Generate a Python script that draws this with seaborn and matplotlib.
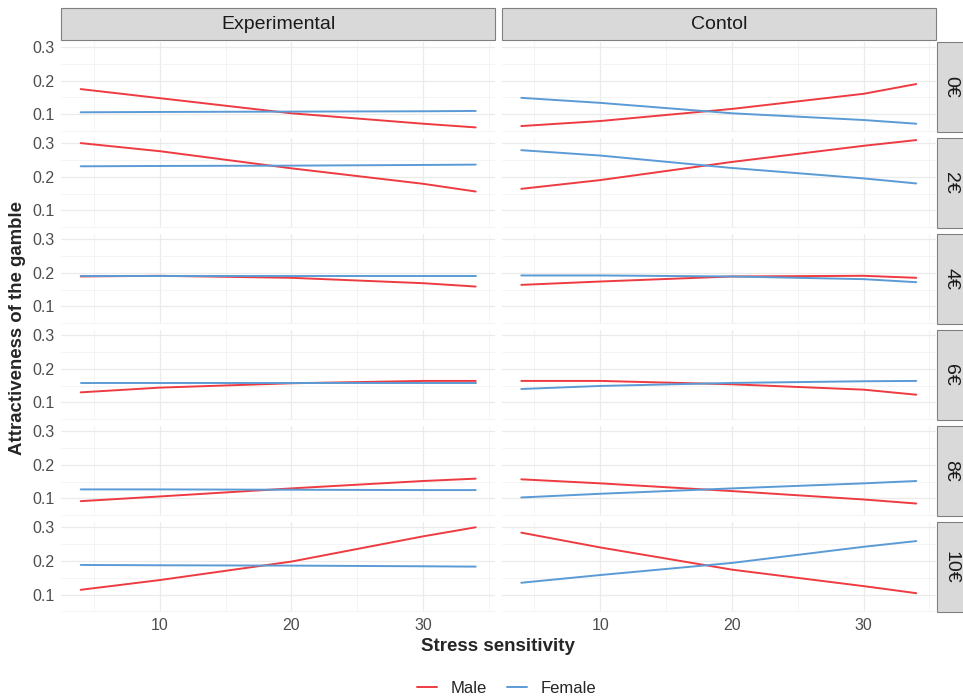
import pandas as pd
import seaborn as sns
import matplotlib.pyplot as plt
from matplotlib.patches import Rectangle
from matplotlib.lines import Line2D

# predicted attractiveness, at these stress values
stress = [4, 10, 20, 30, 34]
amounts = ["0€", "2€", "4€", "6€", "8€", "10€"]
groups = ["Experimental", "Contol"]
sexes = ["Male", "Female"]

male_exp = [
    [0.175, 0.148, 0.103, 0.072, 0.061],
    [0.300, 0.276, 0.225, 0.179, 0.156],
    [0.189, 0.191, 0.185, 0.169, 0.159],
    [0.130, 0.144, 0.157, 0.164, 0.164],
    [0.092, 0.106, 0.130, 0.152, 0.159],
    [0.114, 0.143, 0.198, 0.273, 0.300],
]
female_exp = [
    [0.106, 0.107, 0.108, 0.109, 0.110],
    [0.231, 0.232, 0.233, 0.235, 0.236],
    [0.189, 0.189, 0.189, 0.189, 0.189],
    [0.157, 0.157, 0.157, 0.157, 0.157],
    [0.127, 0.127, 0.126, 0.125, 0.125],
    [0.188, 0.187, 0.186, 0.184, 0.183],
]
male_ctl = [
    [0.065, 0.080, 0.116, 0.161, 0.190],
    [0.164, 0.190, 0.244, 0.292, 0.309],
    [0.164, 0.174, 0.189, 0.191, 0.185],
    [0.164, 0.164, 0.154, 0.138, 0.123],
    [0.157, 0.145, 0.122, 0.097, 0.085],
    [0.284, 0.240, 0.174, 0.125, 0.104],
]
female_ctl = [
    [0.149, 0.134, 0.103, 0.083, 0.072],
    [0.279, 0.263, 0.226, 0.195, 0.180],
    [0.192, 0.192, 0.189, 0.181, 0.172],
    [0.140, 0.149, 0.158, 0.163, 0.164],
    [0.103, 0.114, 0.130, 0.145, 0.152],
    [0.135, 0.158, 0.194, 0.242, 0.259],
]

colors = {"Male": "#EE3B42", "Female": "#5B9BD5"}

series = {
    ("Experimental", "Male"): male_exp,
    ("Experimental", "Female"): female_exp,
    ("Contol", "Male"): male_ctl,
    ("Contol", "Female"): female_ctl,
}
rows = []
for (grp, sex), vals in series.items():
    for i, amt in enumerate(amounts):
        for x, y in zip(stress, vals[i]):
            rows.append([grp, sex, amt, x, y])
df = pd.DataFrame(rows, columns=["group", "sex", "amount", "stress", "attr"])

sns.set_style("white")
plt.rcParams["font.family"] = ["Liberation Sans", "DejaVu Sans"]

fig, axs = plt.subplots(6, 2, figsize=(9.63, 6.98), dpi=100, sharex=True, sharey=True)
fig.subplots_adjust(left=0.0633, right=0.972, top=0.9398, bottom=0.1232,
                    wspace=0.014, hspace=0.07)

for r, amt in enumerate(amounts):
    for c, grp in enumerate(groups):
        ax = axs[r, c]
        sub = df[(df.amount == amt) & (df.group == grp)]
        sns.lineplot(data=sub, x="stress", y="attr", hue="sex", palette=colors,
                     hue_order=sexes, ax=ax, legend=False, linewidth=1.4)
        ax.set_xlim(2.5, 35.5)
        ax.set_ylim(0.048, 0.315)
        ax.set_xticks([10, 20, 30])
        ax.set_yticks([0.1, 0.2, 0.3])
        ax.set_xticks([5, 15, 25, 35], minor=True)
        ax.set_yticks([0.05, 0.15, 0.25], minor=True)
        ax.grid(True, which="major", color="#EBEBEB", linewidth=0.9)
        ax.grid(True, which="minor", color="#F3F3F3", linewidth=0.6)
        ax.set_axisbelow(True)
        for s in ax.spines.values():
            s.set_visible(False)
        ax.set_xlabel("")
        ax.set_ylabel("")
        ax.tick_params(which="major", length=2.5, width=0.8, color="#555555",
                       labelcolor="#4D4D4D", labelsize=11.5, pad=2)
        ax.tick_params(which="minor", length=0)
        if c == 1:
            ax.tick_params(axis="y", which="major", length=0)
        if r < 5:
            ax.tick_params(axis="x", which="major", length=0)
        if r == 0:
            ax.add_patch(Rectangle((0, 1.022), 1, 0.357, transform=ax.transAxes,
                                   facecolor="#D9D9D9", edgecolor="#7F7F7F",
                                   linewidth=0.8, clip_on=False))
            ax.text(0.5, 1.2, grp, transform=ax.transAxes, ha="center", va="center",
                    fontsize=14, color="#1A1A1A")
        if c == 1:
            ax.add_patch(Rectangle((1.003, 0), 0.062, 1, transform=ax.transAxes,
                                   facecolor="#D9D9D9", edgecolor="#7F7F7F",
                                   linewidth=0.8, clip_on=False))
            ax.text(1.034, 0.5, amt, transform=ax.transAxes, ha="center", va="center",
                    rotation=-90, fontsize=14, color="#1A1A1A")

fig.text(0.018, 0.53, "Attractiveness of the gamble", rotation=90, ha="center",
         va="center", fontsize=13.4, fontweight="bold")
fig.text(0.517, 0.074, "Stress sensitivity", ha="center", va="center",
         fontsize=13.5, fontweight="bold")

handles = [Line2D([], [], color=colors[s], linewidth=1.4) for s in sexes]
fig.legend(handles, sexes, loc="center", bbox_to_anchor=(0.526, 0.014), ncol=2,
           frameon=False, fontsize=12, handlelength=1.2, columnspacing=1.2,
           handletextpad=0.8)

fig.savefig("out.png", dpi=100)
